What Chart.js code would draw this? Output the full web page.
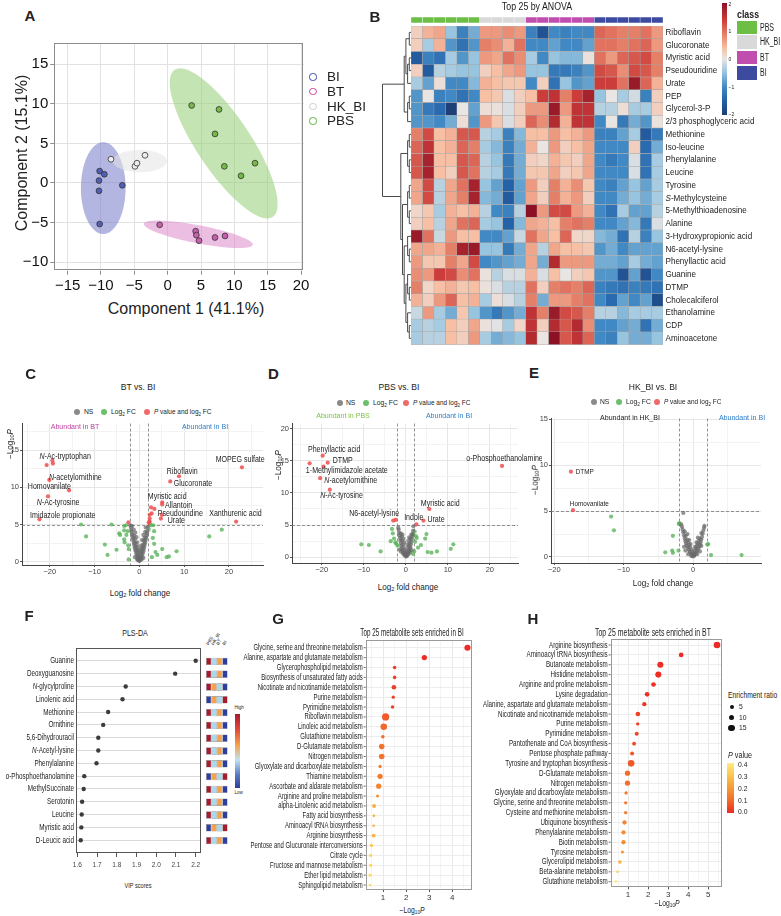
<!DOCTYPE html>
<html>
<head>
<meta charset="utf-8">
<title>Metabolomics figure</title>
<script src="https://cdn.jsdelivr.net/npm/chart.js@4.4.1/dist/chart.umd.min.js"></script>
<style>
  body { margin: 0; background: #fff; }
  #page { position: relative; width: 781px; height: 916px; overflow: hidden; background: #fff;
          font-family: 'Liberation Sans', Arial, Helvetica, sans-serif; color: #222; }
  #page canvas { position: absolute; }
  .t { position: absolute; white-space: nowrap; line-height: 1; }
  .t sub { font-size: 70%; vertical-align: -0.25em; line-height: 0; }
  .box { position: absolute; }
</style>
</head>
<body>
<div id="page"></div>
<script>
// ==============================
// DATA
// ==============================

// A - PLS-DA scores
const scoreGroups = ['BI', 'BT', 'HK_BI', 'PBS'];
const scoresBI = [[-10.2, 1.5], [-9.5, 1.1], [-10.3, 0.3], [-10.3, -1.0], [-6.8, -0.3], [-10.2, -5.2]];
const scoresBT = [[-1.2, -5.3], [4.2, -6.1], [4.3, -6.6], [4.7, -7.3], [7.1, -6.9], [8.6, -6.7]];
const scoresHK = [[-8.5, 3.0], [-4.9, 2.1], [-4.6, 2.5], [-3.4, 3.5]];
const scoresPBS = [[3.6, 9.8], [7.7, 9.3], [7.1, 6.2], [8.5, 2.1], [11.0, 0.9], [13.1, 2.5]];
// confidence ellipses: centre x, centre y, semi-axis u (x,y), semi-axis v (x,y)
const ellBI = [-9.66, -0.66, 3.35, 0, 0, 5.8];
const ellBT = [4.6, -6.5, 8.17, -1.33, -0.25, -1.12];
const ellHK = [-4.16, 2.76, 4.05, 0, 0, 1.4];
const ellPBS = [8.4, 5.0, 7.35, -9.3, 3.37, 1.9];

// B - heatmap, top 25 by ANOVA
const heatNames = ['Riboflavin', 'Glucoronate', 'Myristic acid', 'Pseudouridine', 'Urate', 'PEP',
  'Glycerol-3-P', '2/3 phosphoglyceric acid', 'Methionine', 'Iso-leucine', 'Phenylalanine', 'Leucine',
  'Tyrosine', '{S}-Methylcysteine', '5-Methylthioadenosine', 'Alanine', '3-Hydroxypropionic acid',
  'N6-acetyl-lysine', 'Phenyllactic acid', 'Guanine', 'DTMP', 'Cholecalciferol', 'Ethanolamine',
  'CDP', 'Aminoacetone'];
const heatClass = ['PBS', 'PBS', 'PBS', 'PBS', 'PBS', 'PBS', 'HK_BI', 'HK_BI', 'HK_BI', 'HK_BI',
  'BT', 'BT', 'BT', 'BT', 'BT', 'BT', 'BI', 'BI', 'BI', 'BI', 'BI', 'BI'];
const heatVals = [
  [0.3, 0.6, 0.7, -0.5, -1.1, -0.7, 0.8, 0.8, 0.9, 0.8, -1.1, -1.7, -1.0, -1.1, -1.0, -1.0, 1.2, 1.1, 1.0, 1.0, 1.1, 0.8],
  [0.3, -0.4, 0.6, -0.9, -1.3, -0.9, 1.0, 0.9, 0.6, 1.1, -1.0, -1.0, -0.8, -1.0, -1.0, -0.8, 1.1, 1.1, 1.0, 1.1, 1.2, 0.8],
  [-1.6, -1.1, -1.3, -0.4, -0.9, -0.5, 0.8, 0.7, 1.1, 0.9, -0.4, -1.0, -0.5, -0.6, -0.6, 0.05, 1.1, 0.8, 1.2, 1.3, 1.4, 1.0],
  [0.3, -1.6, -0.3, -0.4, -0.5, -0.5, 0.3, 0.5, 0.7, 0.8, -0.5, -0.5, -1.2, -1.2, -1.1, -0.9, 1.4, 1.3, 0.9, 1.4, 1.3, 1.0],
  [-0.4, -0.8, 0.1, -1.0, -1.0, -0.6, 0.6, 0.5, 0.4, 0.4, -1.0, 0.3, -1.3, -0.5, -0.9, -0.8, 1.5, 1.5, 1.1, 1.9, 1.2, 0.6],
  [-0.9, 0.0, -1.1, -1.0, -1.3, -1.0, 0.5, 0.4, -0.1, 0.3, 0.5, 1.5, 1.6, 1.0, 1.5, 1.8, -0.5, 0.0, -0.4, -0.15, -1.1, 0.3],
  [-0.9, -1.2, -1.4, -2.0, 0.0, -0.8, 0.1, 0.05, -0.1, 0.3, 0.8, 0.8, 1.9, 0.8, 1.6, 1.6, -0.3, -0.3, 0.1, -0.4, -0.4, 0.3],
  [-0.9, -0.9, -1.0, -0.7, 0.1, -0.9, 0.8, 0.4, -0.1, 0.3, 1.2, 0.9, 1.7, 0.6, 1.6, 1.6, -1.0, 0.0, -1.2, -0.7, -0.9, 0.05],
  [1.0, 1.4, 0.5, 0.6, 1.3, 1.3, -0.3, -0.4, -1.1, -0.6, 0.5, 0.5, 0.8, 0.5, 0.6, 0.8, -1.1, -1.1, -0.8, -0.4, -1.6, -1.2],
  [1.2, 1.6, 0.5, 0.6, 1.2, 1.0, -0.4, -0.6, -1.1, -0.7, 0.6, 0.0, 0.8, 0.3, 0.5, 0.7, -1.0, -1.0, -1.0, 0.3, -1.4, -0.7],
  [1.3, 1.8, 0.5, 0.5, 1.3, 1.2, -0.3, -0.5, -1.2, -0.7, 0.3, 0.2, 0.6, 0.4, 0.3, 0.7, -1.0, -1.2, -1.0, -0.1, -1.3, -0.4],
  [1.3, 1.8, 0.5, 0.3, 1.3, 1.1, -0.3, -0.4, -1.2, -0.7, 0.4, 0.4, 0.7, 0.3, 0.4, 0.7, -1.0, -1.0, -1.0, -0.1, -1.3, -0.4],
  [0.7, 1.4, -0.3, 0.7, 1.1, 1.8, -0.5, -0.8, -1.5, -0.8, 0.8, 0.3, 1.0, 0.6, 0.9, 0.4, -1.0, -1.1, -0.8, -0.5, -0.8, -0.4],
  [0.7, 1.4, -0.3, 0.7, 1.0, 1.8, -0.6, -0.7, -1.6, -0.8, 0.7, 0.3, 1.0, 0.6, 0.8, 0.3, -1.0, -1.0, -0.7, -0.5, -0.7, -0.4],
  [0.2, 0.4, -0.4, 0.6, 0.5, 0.6, -0.3, -1.0, -1.1, -0.3, 2.0, 0.8, 1.4, 1.4, 0.8, 0.6, -1.0, -1.3, -0.4, -0.8, -0.8, -0.3],
  [0.3, 0.5, -0.3, 0.7, 1.1, 1.2, -0.4, -0.5, -1.5, -0.6, 0.7, 0.6, 0.5, 1.0, 1.1, 1.0, -1.0, -1.0, -0.8, -0.6, -1.2, -0.1],
  [1.9, 1.1, -0.2, 0.8, 0.5, 0.5, -1.0, -1.0, -0.8, -0.2, 1.1, 0.7, 0.5, 1.2, 0.2, 0.2, -0.6, -0.7, -1.3, -0.3, -1.1, -0.5],
  [0.7, 0.7, 0.6, 1.0, 1.8, 1.9, -0.5, -0.5, -1.2, -0.7, 0.7, -0.3, 0.7, 0.5, 0.5, 0.4, -0.9, -0.7, -1.0, -0.8, -0.8, -0.8],
  [0.8, 0.4, 0.4, 1.0, 0.7, 1.4, -1.0, -0.9, -0.8, -0.7, 0.7, -0.7, 1.7, 0.8, 0.8, 0.8, -0.7, -0.7, -0.8, -0.4, -0.7, -0.8],
  [0.9, 0.8, 1.5, 1.4, 0.9, 1.1, 0.05, -0.3, -0.1, -0.1, 0.6, -0.1, 0.5, 0.0, 0.3, 0.4, -0.9, -0.9, -1.7, -0.8, -1.7, -1.0],
  [1.0, 0.2, 0.5, 0.6, 0.4, 0.5, 0.05, -0.1, -0.3, -0.3, 1.1, 0.3, 1.0, 1.1, 1.0, 1.2, -1.1, -1.2, -1.3, -1.1, -1.2, -1.3],
  [0.6, 0.3, 0.8, 1.2, 0.5, 0.6, -0.4, 0.1, -0.1, -0.3, 1.0, -0.7, 0.8, 0.8, 1.0, 1.1, -1.0, -1.4, -0.8, -1.0, -0.8, -1.8],
  [-0.2, 0.8, -0.4, -0.7, 0.4, -0.5, -0.9, -1.2, -0.9, -0.7, 1.6, 1.0, 1.9, 1.4, 1.3, 1.0, -0.3, -0.3, -0.6, -0.4, -0.4, -0.4],
  [-0.4, -0.3, -0.4, 0.5, 0.3, 0.7, 0.05, -0.05, -0.4, 0.2, 1.6, 0.3, 1.7, 1.3, 1.7, 0.9, -1.0, -1.0, -0.8, -0.7, -1.3, -0.7],
  [-0.4, -0.3, -0.3, 0.5, 0.3, 0.8, -0.4, -0.7, -0.6, -0.5, 1.7, 0.0, 2.0, 1.3, 1.6, 1.2, -1.0, -1.1, -0.5, -0.7, -0.7, -0.5]
];
// row clustering (row indices)
const heatTree = [[[[0, 1], [[2, 3], 4]], [[5, 6], 7]],
  [[[8, 9], [10, 11]], [[[12, 13], [14, 15]], [[16, [17, 18]], [[19, [20, 21]], [22, [23, 24]]]]]]];

// C, D, E - volcano plots (log2 FC, -log10 P)
const fcCut = 2;
const pCut = 5;
const nsC = [[0, 0.1], [0.15, 0.2], [-0.15, 0.25], [0.3, 0.35], [-0.3, 0.4], [0.45, 0.6], [-0.45, 0.65], [0.6, 0.85],
  [-0.6, 0.9], [0.75, 1.1], [-0.75, 1.2], [0.9, 1.4], [-0.9, 1.5], [1.0, 1.7], [-1.0, 1.8], [1.1, 2.0], [-1.1, 2.1],
  [1.2, 2.3], [-1.2, 2.4], [1.3, 2.6], [-1.3, 2.7], [1.4, 2.9], [-1.4, 3.0], [1.5, 3.2], [-1.5, 3.3], [-1.6, 3.6],
  [1.6, 3.5], [-1.7, 3.9], [1.7, 3.8], [-1.8, 4.2], [1.8, 4.1], [-1.9, 4.6], [1.9, 4.7], [0.1, 0.5], [-0.1, 0.7],
  [0.25, 0.9], [-0.25, 1.0], [0.4, 1.2], [-0.4, 1.3], [0.55, 1.5], [-0.55, 1.6], [0.2, 1.3], [-0.2, 1.6], [0.7, 1.9],
  [-0.7, 2.0], [0.35, 1.8], [-0.35, 2.1], [0.85, 2.3], [-0.85, 2.5], [0.5, 2.2], [-0.5, 2.6], [1.0, 2.8], [-1.0, 3.0],
  [0.6, 2.9], [-0.65, 3.3], [1.15, 3.2], [-1.15, 3.5], [0.9, 3.6], [-0.9, 3.9], [1.3, 4.0], [-1.25, 4.3], [-0.3, 0.2],
  [0.05, 0.35], [-0.05, 0.15], [0.5, 0.3], [-0.55, 0.35], [1.4, 4.6], [-2.0, 4.9], [-1.6, 4.8], [0.9, 0.5], [-1.0, 0.6]];
const fcC = [[-13.0, 5.0], [-11.9, 3.4], [-6.2, 5.0], [-7.7, 2.3], [-7.1, 0.9], [-5.1, 1.6], [-4.5, 3.8], [-4.3, 3.6],
  [-3.4, 4.8], [-3.0, 4.9], [-3.4, 4.2], [-3.4, 3.0], [-3.3, 2.6], [-2.9, 3.6], [-2.6, 4.1], [-2.5, 2.2], [-2.4, 1.7],
  [-2.4, 0.3], [3.1, 4.9], [3.3, 4.1], [3.0, 3.2], [3.3, 2.4], [3.6, 1.3], [2.8, 0.6], [5.1, 1.7], [4.0, 0.9], [6.1, 0.6],
  [6.6, 0.7], [8.3, 1.4], [15.6, 3.4], [18.4, 4.3], [2.6, 4.9], [2.1, 4.4]];
const sigC = [[-19.4, 13.6], [-19.3, 13.2], [-20.7, 13.0], [-20.1, 11.0], [-15.7, 9.6], [-20.4, 8.8], [-22.3, 5.7],
  [-2.45, 5.3], [22.9, 12.7], [8.85, 11.5], [6.9, 10.8], [5.1, 8.0], [5.1, 7.7], [2.6, 7.3], [3.35, 7.1], [5.0, 6.3],
  [2.75, 6.5], [2.3, 6.3], [2.3, 5.8], [2.3, 5.4], [2.3, 5.1], [4.8, 5.8], [2.1, 5.3], [21.6, 5.4]];
const labelsC = [['{N}-Ac-tryptophan', -22.3, 14.15], ['{N}-acetylornithine', -20.2, 11.35], ['Homovanilate', -24.9, 10.14],
  ['{N}-Ac-tyrosine', -22.9, 7.98], ['Imidazole propionate', -24.4, 6.13], ['MOPEG sulfate', 17.05, 13.76],
  ['Riboflavin', 6.12, 12.08], ['Glucoronate', 7.68, 10.44], ['Myristic acid', 1.88, 8.76], ['Allantoin', 5.74, 7.55],
  ['Pseudouridine', 4.1, 6.47], ['Urate', 6.34, 5.49], ['Xanthurenic acid', 15.6, 6.39]];

const nsD = [[0, 0.1], [0.2, 0.2], [-0.2, 0.3], [0.4, 0.4], [-0.4, 0.5], [0.6, 0.7], [-0.6, 0.8], [0.8, 1.0], [-0.8, 1.1],
  [1.0, 1.3], [-1.0, 1.4], [1.1, 1.6], [-1.1, 1.8], [1.2, 2.0], [-1.2, 2.2], [1.3, 2.4], [-1.3, 2.6], [1.4, 2.8],
  [-1.4, 3.0], [1.5, 3.2], [-1.5, 3.4], [1.6, 3.6], [-1.6, 3.8], [1.7, 4.1], [-1.7, 4.3], [1.8, 4.8], [-1.8, 4.6],
  [0.1, 0.6], [-0.1, 0.8], [0.3, 1.0], [-0.3, 1.2], [0.5, 1.4], [-0.5, 1.6], [0.7, 1.7], [-0.7, 2.0], [0.4, 2.0],
  [-0.4, 2.3], [0.9, 2.2], [-0.9, 2.6], [0.6, 2.6], [-0.6, 2.9], [1.1, 2.9], [-1.0, 3.2], [0.8, 3.1], [-0.8, 3.5],
  [1.3, 3.5], [-1.2, 3.7], [0.3, 0.25], [-0.3, 0.35], [0.7, 0.5], [-0.7, 0.6], [1.0, 0.8], [-1.2, 0.9], [0.0, 0.4],
  [1.4, 1.1], [-1.5, 1.2]];
const fcD = [[-10.6, 2.0], [-8.8, 1.9], [-6.0, 0.9], [-3.3, 4.4], [-3.1, 3.7], [-3.6, 2.5], [-2.8, 2.9], [-2.5, 2.3],
  [-2.3, 2.1], [-2.0, 1.8], [1.8, 3.5], [2.1, 4.0], [2.6, 3.0], [2.9, 1.5], [3.6, 1.9], [4.9, 3.6], [4.6, 2.9],
  [5.2, 0.8], [6.1, 0.7], [7.4, 0.9], [10.7, 1.3], [11.3, 2.0], [2.0, 0.9], [1.7, 0.5], [2.2, 2.4], [2.4, 3.3]];
const sigD = [[-22.9, 14.6], [-19.8, 15.8], [-18.6, 14.7], [-19.6, 14.1], [-20.4, 12.3], [-18.1, 10.5], [22.9, 14.2],
  [5.6, 7.5], [4.2, 5.7], [2.5, 5.1], [-3.0, 5.7], [-2.4, 5.8]];
const labelsD = [['Phenyllactic acid', -23.3, 16.7], ['DTMP', -17.4, 15.0], ['1-Methylimidazole acetate', -23.8, 13.4],
  ['{N}-acetylornithine', -19.4, 11.9], ['{N}-Ac-tyrosine', -20.4, 9.5], ['o-Phosphoethanolamine', 14.4, 15.4],
  ['Myristic acid', 3.57, 8.3], ['N6-acetyl-lysine', -13.5, 6.8], ['Indole', -0.4, 6.2], ['Urate', 5.14, 5.9]];

const nsE = [[0, 0.05], [0.15, 0.15], [-0.15, 0.2], [0.3, 0.3], [-0.3, 0.35], [0.45, 0.5], [-0.45, 0.55], [0.6, 0.7],
  [-0.6, 0.75], [0.75, 0.9], [-0.75, 1.0], [0.9, 1.1], [-0.9, 1.2], [1.0, 1.35], [-1.0, 1.45], [1.1, 1.6], [-1.1, 1.7],
  [1.2, 1.9], [-1.2, 2.0], [1.3, 2.2], [-1.3, 2.35], [1.4, 2.55], [-1.4, 2.7], [1.5, 2.9], [-1.5, 3.0], [1.6, 3.2],
  [-1.6, 3.3], [1.65, 3.4], [-1.7, 3.55], [-1.4, 4.8], [0.1, 0.4], [-0.1, 0.55], [0.25, 0.7], [-0.25, 0.8], [0.4, 0.95],
  [-0.4, 1.05], [0.55, 1.2], [-0.55, 1.3], [0.7, 1.45], [-0.7, 1.6], [0.3, 1.1], [-0.35, 1.4], [0.85, 1.75],
  [-0.85, 1.9], [0.5, 1.6], [-0.55, 1.85], [1.0, 2.0], [-1.05, 2.3], [0.7, 2.1], [-0.8, 2.5], [1.2, 2.6], [-1.2, 2.8],
  [0.2, 0.15], [-0.25, 0.1], [0.6, 0.3], [-0.7, 0.3], [1.0, 0.6], [-1.1, 0.7], [1.2, 1.2], [-1.3, 1.1], [0.05, 0.25]];
const fcE = [[-11.8, 4.4], [-11.4, 2.9], [-4.0, 0.5], [-3.0, 0.7], [-2.9, 0.45], [-2.9, 2.3], [-2.1, 0.7], [-2.05, 3.6],
  [-1.95, 3.7], [2.2, 1.4], [2.6, 0.2], [7.0, 0.2], [2.05, 1.35]];
const sigE = [[-17.6, 9.3], [-17.3, 5.1]];
const labelsE = [['DTMP', -16.9, 9.3], ['Homovanilate', -17.76, 5.83]];

// F - PLS-DA VIP scores
const vipNames = ['Guanine', 'Deoxyguanosine', '{N}-glycylproline', 'Linolenic acid', 'Methionine', 'Ornithine',
  '5,6-Dihydrouracil', '{N}-Acetyl-lysine', 'Phenylalanine', '{o}-Phosphoethanolamine', 'MethylSuccinate',
  'Serotonin', 'Leucine', 'Myristic acid', 'D-Leucic acid'];
const vipScores = [2.20, 2.096, 1.845, 1.829, 1.756, 1.731, 1.706, 1.706, 1.697, 1.635, 1.632, 1.624, 1.622, 1.620, 1.617];
const vipGroups = ['PBS', 'HK_BI', 'BT', 'BI'];
// relative level per group, 1 = low ... 4 = high
const vipRank = [[4, 2, 3, 1], [4, 2, 3, 1], [4, 3, 2, 1], [1, 3, 2, 4], [4, 2, 3, 1], [4, 2, 3, 1], [4, 2, 3, 1],
  [4, 2, 3, 1], [4, 2, 3, 1], [1, 3, 2, 4], [4, 2, 3, 1], [4, 2, 3, 1], [4, 2, 3, 1], [1, 3, 2, 4], [4, 2, 3, 1]];

// G - enrichment in BI
const setsBI = ['Glycine, serine and threonine metabolism', 'Alanine, aspartate and glutamate metabolism',
  'Glycerophospholipid metabolism', 'Biosynthesis of unsaturated fatty acids', 'Nicotinate and nicotinamide metabolism',
  'Purine metabolism', 'Pyrimidine metabolism', 'Riboflavin metabolism', 'Linoleic acid metabolism',
  'Glutathione metabolism', 'D-Glutamate metabolism', 'Nitrogen metabolism', 'Glyoxylate and dicarboxylate metabolism',
  'Thiamine metabolism', 'Ascorbate and aldarate metabolism', 'Arginine and proline metabolism',
  'alpha-Linolenic acid metabolism', 'Fatty acid biosynthesis', 'Aminoacyl tRNA biosynthesis', 'Arginine biosynthesis',
  'Pentose and Glucuronate interconversions', 'Citrate cycle', 'Fructose and mannose metabolism',
  'Ether lipid metabolism', 'Sphingolipid metabolism'];
const logpBI = [4.66, 2.79, 1.5, 1.5, 1.47, 1.44, 1.41, 1.11, 1.03, 0.99, 0.94, 0.94, 0.87, 0.87, 0.81, 0.76, 0.61,
  0.6, 0.59, 0.59, 0.5, 0.46, 0.46, 0.44, 0.43];
const ratioBI = [12, 9, 4, 4, 7, 3.5, 4, 17, 14, 4, 10, 10, 3.5, 9, 9, 3, 5, 2.3, 2.3, 5, 3.5, 3.5, 3.5, 3.5, 2.3];

// H - enrichment in BT
const setsBT = ['Arginine biosynthesis', 'Aminoacyl tRNA biosynthesis', 'Butanoate metabolism', 'Histidine metabolism',
  'Arginine and proline metabolism', 'Lysine degradation', 'Alanine, aspartate and glutamate metabolism',
  'Nicotinate and nicotinamide metabolism', 'Purine metabolism', 'Pyrimidine metabolism',
  'Pantothenate and CoA biosynthesis', 'Pentose phosphate pathway', 'Tyrosine and tryptophan biosynthesis',
  'D-Glutamate metabolism', 'Nitrogen metabolism', 'Glyoxylate and dicarboxylate metabolism',
  'Glycine, serine and threonine metabolism', 'Cysteine and methionine metabolism', 'Ubiquinone biosynthesis',
  'Phenylalanine metabolism', 'Biotin metabolism', 'Tyrosine metabolism', 'Glycerolipid metabolism',
  'Beta-alanine metabolism', 'Glutathione metabolism'];
const logpBT = [5.44, 3.65, 2.61, 2.51, 2.27, 1.95, 1.81, 1.49, 1.48, 1.43, 1.3, 1.2, 1.15, 0.97, 0.97, 0.9, 0.88,
  0.88, 0.82, 0.77, 0.77, 0.72, 0.59, 0.47, 0.39];
const ratioBT = [14, 7, 12, 12, 7, 7, 6, 7, 3.5, 5, 5, 5, 14, 9, 9, 3.5, 3.5, 3.5, 6, 6, 6, 3, 4, 2.3, 2.3];

// ==============================
// STYLE / HELPERS
// ==============================
const FONT = "'Liberation Sans', Arial, Helvetica, sans-serif";
Chart.defaults.font.family = FONT;
Chart.defaults.color = '#222';
Chart.defaults.animation = false;
Chart.defaults.responsive = false;
Chart.defaults.plugins.legend.display = false;
Chart.defaults.plugins.tooltip.enabled = false;

const page = document.getElementById('page');
const groupFill = { BI: '#4F5FB5', BT: '#C85FAE', HK_BI: '#EDEDED', PBS: '#76B947' };
const groupRing = { BI: '#3A4BAA', BT: '#C8409F', HK_BI: '#CCCCCC', PBS: '#58B43C' };
const ellFill = { BI: 'rgba(118,122,202,0.55)', BT: 'rgba(220,137,202,0.55)', HK_BI: 'rgba(228,228,228,0.55)', PBS: 'rgba(148,206,119,0.55)' };
const classColor = { PBS: '#6DBE45', HK_BI: '#D9D9D9', BT: '#BF4EAE', BI: '#3C4BA0' };
const heatStops = [[-2, '#1E3F78'], [-1.5, '#2462A8'], [-1, '#4189C4'], [-0.5, '#97C4DF'], [0, '#E9E5E3'],
  [0.5, '#F7BFA3'], [1, '#E58068'], [1.5, '#CC3C3A'], [2, '#8C1124']];
const pStops = [[0, '#EE2A24'], [0.1, '#F26B2A'], [0.2, '#F79A35'], [0.3, '#FBC54E'], [0.4, '#FFEC80']];
const vipColors = ['#2E3E9C', '#A9DAEB', '#F5A14B', '#A51C2E'];

function hexRgb(h) { const n = parseInt(h.slice(1), 16); return [(n >> 16) & 255, (n >> 8) & 255, n & 255]; }
function ramp(stops, v) {
  if (v <= stops[0][0]) return stops[0][1];
  for (let i = 1; i < stops.length; i++) {
    if (v <= stops[i][0]) {
      const t = (v - stops[i - 1][0]) / (stops[i][0] - stops[i - 1][0]);
      const a = hexRgb(stops[i - 1][1]), b = hexRgb(stops[i][1]);
      return 'rgb(' + a.map((x, k) => Math.round(x + (b[k] - x) * t)).join(',') + ')';
    }
  }
  return stops[stops.length - 1][1];
}
const minus = v => v < 0 ? '\u2212' + Math.abs(v) : String(v);
const isInt = v => Math.abs(v - Math.round(v)) < 1e-6;

function txt(html, x, y, o = {}) {
  const d = document.createElement('div');
  const a = o.a || 'c';
  d.className = 't';
  d.innerHTML = html;
  d.style.left = x + 'px';
  d.style.top = y + 'px';
  d.style.fontSize = (o.size || 8) + 'px';
  if (o.bold) d.style.fontWeight = 'bold';
  if (o.color) d.style.color = o.color;
  d.style.transformOrigin = { l: '0% 50%', c: '50% 50%', r: '100% 50%' }[a];
  d.style.transform = `translate(${{ l: '0', c: '-50%', r: '-100%' }[a]},-50%) rotate(${o.rot || 0}deg) scaleX(${o.sx || 1})`;
  page.appendChild(d);
  return d;
}
function box(x, y, w, h, bg, extra) {
  const d = document.createElement('div');
  d.className = 'box';
  Object.assign(d.style, { left: x + 'px', top: y + 'px', width: w + 'px', height: h + 'px', background: bg }, extra || {});
  page.appendChild(d);
  return d;
}
function dot(x, y, r, fill, stroke, sw) {
  return box(x - r, y - r, 2 * r, 2 * r, fill,
    { borderRadius: '50%', boxSizing: 'border-box', border: stroke ? `${sw || 1}px solid ${stroke}` : 'none' });
}
function canvasAt(x, y, w, h) {
  const c = document.createElement('canvas');
  c.width = w; c.height = h;
  c.style.left = x + 'px'; c.style.top = y + 'px';
  c.style.width = w + 'px'; c.style.height = h + 'px';
  page.appendChild(c);
  return c;
}
// plot area p (page px) + room around it -> canvas and the offsets of the plot inside it
function plotCanvas(p, m) {
  const x = Math.round(p.l - m.l), y = Math.round(p.t - m.t);
  const w = Math.round(p.r + m.r) - x, h = Math.round(p.b + m.b) - y;
  return { cv: canvasAt(x, y, w, h), l: p.l - x, t: p.t - y, r: x + w - p.r, b: y + h - p.b };
}

// canvas text, squeezed horizontally; {..} marks italic runs
function segs(str) {
  const out = []; let it = false, buf = '';
  for (const ch of str) {
    if (ch === '{' || ch === '}') { if (buf) out.push([buf, it]); buf = ''; it = ch === '{'; }
    else buf += ch;
  }
  if (buf) out.push([buf, it]);
  return out;
}
function ctext(ctx, str, x, y, o) {
  const sz = o.size || 8, sx = o.sx || 1;
  const ss = segs(str);
  let w = 0;
  ss.forEach(s => { ctx.font = (s[1] ? 'italic ' : '') + sz + 'px ' + FONT; s.push(ctx.measureText(s[0]).width); w += s[2]; });
  const a = o.align || 'left';
  const x0 = a === 'left' ? x : a === 'right' ? x - w * sx : x - w * sx / 2;
  ctx.save();
  ctx.translate(x0, y);
  ctx.scale(sx, 1);
  ctx.fillStyle = o.color || '#222';
  ctx.textBaseline = 'middle';
  ctx.textAlign = 'left';
  let cx = 0;
  ss.forEach(s => { ctx.font = (s[1] ? 'italic ' : '') + sz + 'px ' + FONT; ctx.fillText(s[0], cx, 0); cx += s[2]; });
  ctx.restore();
}

// ==============================
// PLUGINS
// ==============================
const rowLabels = {
  id: 'rowLabels',
  afterDraw(chart, args, o) {
    if (!o.labels) return;
    const ctx = chart.ctx, ys = chart.scales.y, a = chart.chartArea;
    o.labels.forEach((lab, i) => {
      const y = ys.getPixelForValue(i);
      if (o.side === 'right') {
        ctext(ctx, lab, a.right + (o.gap || 2), y, { size: o.size, sx: o.sx });
      } else {
        ctext(ctx, lab, a.left - (o.gap || 2), y, { size: o.size, sx: o.sx, align: 'right' });
        if (o.tick) {
          ctx.save(); ctx.strokeStyle = '#444'; ctx.lineWidth = 0.8;
          ctx.beginPath(); ctx.moveTo(a.left - 2, y); ctx.lineTo(a.left, y); ctx.stroke(); ctx.restore();
        }
      }
    });
  }
};
const frameBox = {
  id: 'frameBox',
  beforeDatasetsDraw(chart, args, o) {
    if (!o.color) return;
    const a = chart.chartArea, c = chart.ctx;
    c.save(); c.strokeStyle = o.color; c.lineWidth = o.width || 1;
    c.strokeRect(Math.round(a.left) + 0.5, Math.round(a.top) + 0.5, Math.round(a.right - a.left) - 1, Math.round(a.bottom - a.top) - 1);
    c.restore();
  }
};
const ellipses = {
  id: 'ellipses',
  beforeDatasetsDraw(chart, args, o) {
    const ctx = chart.ctx, xs = chart.scales.x, ys = chart.scales.y;
    o.sets.forEach((e, k) => {
      ctx.save();
      ctx.fillStyle = o.colors[k];
      ctx.beginPath();
      for (let d = 0; d <= 360; d += 3) {
        const t = d * Math.PI / 180;
        const px = xs.getPixelForValue(e[0] + e[2] * Math.cos(t) + e[4] * Math.sin(t));
        const py = ys.getPixelForValue(e[1] + e[3] * Math.cos(t) + e[5] * Math.sin(t));
        if (d === 0) ctx.moveTo(px, py); else ctx.lineTo(px, py);
      }
      ctx.closePath();
      ctx.fill();
      ctx.restore();
    });
  }
};
const dendro = {
  id: 'dendro',
  afterDraw(chart, args, o) {
    const ctx = chart.ctx, ys = chart.scales.y, left = chart.chartArea.left;
    const height = n => Array.isArray(n) ? 1 + Math.max(height(n[0]), height(n[1])) : 0;
    ctx.save();
    ctx.strokeStyle = '#4A4A4A';
    ctx.lineWidth = 1;
    const walk = (n, root) => {
      if (!Array.isArray(n)) return { x: left, y: ys.getPixelForValue(n) };
      const a = walk(n[0]), b = walk(n[1]);
      const x = root ? o.rootX : left - height(n) * o.step;
      ctx.beginPath();
      ctx.moveTo(a.x, a.y); ctx.lineTo(x, a.y); ctx.lineTo(x, b.y); ctx.lineTo(b.x, b.y);
      ctx.stroke();
      return { x, y: (a.y + b.y) / 2 };
    };
    walk(o.tree, true);
    ctx.restore();
  }
};
const volcMarks = {
  id: 'volcMarks',
  beforeDatasetsDraw(chart, args, o) {
    const ctx = chart.ctx, xs = chart.scales.x, ys = chart.scales.y, a = chart.chartArea;
    ctx.save();
    ctx.strokeStyle = '#777'; ctx.lineWidth = 0.8; ctx.setLineDash([3, 2]);
    [-o.fc, o.fc].forEach(v => {
      const x = Math.round(xs.getPixelForValue(v)) + 0.5;
      ctx.beginPath(); ctx.moveTo(x, a.top); ctx.lineTo(x, a.bottom); ctx.stroke();
    });
    const y = Math.round(ys.getPixelForValue(o.p)) + 0.5;
    ctx.beginPath(); ctx.moveTo(a.left, y); ctx.lineTo(a.right, y); ctx.stroke();
    ctx.restore();
  },
  afterDatasetsDraw(chart, args, o) {
    const xs = chart.scales.x, ys = chart.scales.y;
    o.labels.forEach(l => ctext(chart.ctx, l[0], xs.getPixelForValue(l[1]), ys.getPixelForValue(l[2]),
      { size: o.size, sx: o.sx }));
  }
};

// ==============================
// A - PLS-DA SCORES
// ==============================
const scoreSets = [scoresBI, scoresBT, scoresHK, scoresPBS];
const fA = plotCanvas({ l: 54.3, t: 43.3, r: 303.7, b: 270.7 }, { l: 54.3, t: 13, r: 66, b: 29.3 });
new Chart(fA.cv, {
  type: 'scatter',
  data: {
    datasets: scoreGroups.map((g, i) => ({
      label: g,
      data: scoreSets[i].map(p => ({ x: p[0], y: p[1] })),
      backgroundColor: groupFill[g], borderColor: '#333', borderWidth: 0.8, pointRadius: 2.9
    }))
  },
  options: {
    layout: { padding: { top: fA.t, right: fA.r } },
    plugins: {
      ellipses: { sets: [ellPBS, ellBI, ellHK, ellBT], colors: [ellFill.PBS, ellFill.BI, ellFill.HK_BI, ellFill.BT] },
      frameBox: { color: '#8C8C8C' }
    },
    scales: {
      x: {
        min: -17, max: 20.4, afterFit: s => { s.height = fA.b; },
        ticks: { stepSize: 5, includeBounds: false, autoSkip: false, maxRotation: 0, padding: 2, font: { size: 15 }, color: '#111', callback: minus },
        grid: { color: '#E2E2E2', tickLength: 4, tickColor: '#8C8C8C' }, border: { display: false }
      },
      y: {
        min: -11.1, max: 17.66, afterFit: s => { s.width = fA.l; },
        ticks: { stepSize: 5, includeBounds: false, autoSkip: false, padding: 2, font: { size: 15 }, color: '#111', callback: minus },
        grid: { color: '#E2E2E2', tickLength: 4, tickColor: '#8C8C8C' }, border: { display: false }
      }
    }
  },
  plugins: [ellipses, frameBox]
});
txt('A', 30, 15, { size: 15, bold: true });
txt('Component 1 (41.1%)', 186, 309, { size: 16 });
txt('Component 2 (15.1%)', 22, 153, { size: 16, rot: -90 });
[77, 91.5, 106.5, 121].forEach((y, i) => {
  const g = scoreGroups[i];
  dot(313, y, 3.6, 'transparent', groupRing[g], 1.4);
  txt(g, 327, y, { size: 13.5, a: 'l' });
});

// ==============================
// B - HEATMAP
// ==============================
new Chart(canvasAt(411, 17, 252, 6), {
  type: 'bar',
  data: {
    labels: heatClass.map((c, j) => j),
    datasets: [{ data: heatClass.map(() => 1), backgroundColor: heatClass.map(c => classColor[c]),
      borderColor: 'rgba(255,255,255,0.6)', borderWidth: 0.5, borderSkipped: false, barPercentage: 1, categoryPercentage: 1 }]
  },
  options: { scales: { x: { display: false }, y: { display: false, min: 0, max: 1 } } }
});
new Chart(canvasAt(370, 20, 411, 330), {
  type: 'bar',
  data: {
    labels: heatNames,
    datasets: heatClass.map((c, j) => ({
      data: heatNames.map(() => 1),
      backgroundColor: heatVals.map(r => ramp(heatStops, r[j])),
      borderColor: '#A3A3A3', borderWidth: 0.5, borderSkipped: false,
      barPercentage: 1, categoryPercentage: 1
    }))
  },
  options: {
    indexAxis: 'y',
    layout: { padding: { left: 41, top: 6, right: 118, bottom: 5.3 } },
    plugins: {
      rowLabels: { labels: heatNames, size: 9.5, sx: 0.85, side: 'right', gap: 2.5 },
      dendro: { tree: heatTree, rootX: 12.5, step: 1.7 }
    },
    scales: { x: { display: false, stacked: true, min: 0, max: heatClass.length }, y: { display: false, stacked: true } }
  },
  plugins: [rowLabels, dendro]
});
txt('B', 375, 16, { size: 15, bold: true });
txt('Top 25 by ANOVA', 537, 6.5, { size: 10, sx: 0.88 });
txt('class', 737, 14, { size: 11, bold: true, a: 'l', sx: 0.8 });
[['PBS', 20.7], ['HK_BI', 35.3], ['BT', 50.7], ['BI', 66]].forEach(([g, y]) => {
  box(737, y, 20, 13.8, classColor[g]);
  txt(g, 759.5, y + 7, { size: 10, a: 'l', sx: 0.7 });
});
box(721.7, 3, 5.5, 112, 'linear-gradient(to bottom,#8C1124,#CC3C3A 15%,#E58068 28%,#F7BFA3 40%,#E9E5E3 50%,#97C4DF 62%,#4189C4 75%,#2462A8 87%,#1E3F78)');
[['2', 4], ['1', 31], ['0', 59], ['\u22121', 87], ['\u22122', 114]].forEach(([s, y]) => txt(s, 728.5, y, { size: 5, a: 'l' }));

// ==============================
// C, D, E - VOLCANO PLOTS
// ==============================
function volcano(o) {
  const f = plotCanvas(o.plot, o.m);
  const pts = arr => arr.map(p => ({ x: p[0], y: p[1] }));
  new Chart(f.cv, {
    type: 'scatter',
    data: {
      datasets: [
        { data: pts(o.ns), backgroundColor: 'rgba(105,105,105,0.72)', pointRadius: 2.1, borderWidth: 0 },
        { data: pts(o.fc), backgroundColor: 'rgba(88,178,88,0.78)', pointRadius: 2.1, borderWidth: 0 },
        { data: pts(o.sig), backgroundColor: 'rgba(238,78,78,0.85)', pointRadius: 2.1, borderWidth: 0 }
      ]
    },
    options: {
      layout: { padding: { top: f.t, right: f.r } },
      plugins: { volcMarks: { labels: o.labels, fc: fcCut, p: pCut, size: o.labelSize || 8.3, sx: 0.85 } },
      scales: {
        x: {
          min: o.x[0], max: o.x[1], afterFit: s => { s.height = f.b; },
          ticks: { stepSize: 5, includeBounds: false, autoSkip: false, maxRotation: 0, padding: 0, font: { size: 7.5 }, color: '#444',
            callback: v => v % 10 === 0 ? minus(v) : '' },
          grid: { color: c => c.tick.value % 10 === 0 ? '#E6E6E6' : '#F3F3F3', tickLength: 2,
            tickColor: c => c.tick.value % 10 === 0 ? '#555' : 'rgba(0,0,0,0)' },
          border: { color: '#444' }
        },
        y: {
          min: o.y[0], max: o.y[1], afterFit: s => { s.width = f.l; },
          ticks: { stepSize: 2.5, includeBounds: false, autoSkip: false, padding: 1, font: { size: 7.5 }, color: '#444',
            callback: v => v % 5 === 0 ? minus(v) : '' },
          grid: { color: c => c.tick.value % 5 === 0 ? '#E6E6E6' : '#F3F3F3', tickLength: 2,
            tickColor: c => c.tick.value % 5 === 0 ? '#555' : 'rgba(0,0,0,0)' },
          border: { color: '#444' }
        }
      }
    },
    plugins: [volcMarks]
  });
  // title, legend and axis titles
  txt(o.letter, o.letterAt[0], o.letterAt[1], { size: 15, bold: true });
  txt(o.title, o.titleAt[0], o.titleAt[1], { size: 9, sx: 0.95 });
  const ly = o.legend[0], lx = o.legend[1];
  dot(lx[0], ly, 3.2, '#8A8A8A');
  txt('NS', lx[1], ly, { size: 7.5, a: 'l', sx: 0.9 });
  dot(lx[2], ly, 3.2, '#6CBF6C');
  txt('Log<sub>2</sub> FC', lx[3], ly, { size: 7.5, a: 'l', sx: 0.9 });
  dot(lx[4], ly, 3.2, '#F06A6A');
  txt('<i>P</i> value and log<sub>2</sub> FC', lx[5], ly, { size: 7.5, a: 'l', sx: 0.86 });
  o.abundant.forEach(a => txt(a[0], a[1], a[2], { size: 8, sx: 0.88, color: a[3] }));
  txt('\u2212Log<sub>10</sub><i>P</i>', o.yTitle[0], o.yTitle[1], { size: 8.5, rot: -90, sx: 0.95 });
  txt('Log<sub>2</sub> fold change', o.xTitle[0], o.xTitle[1], { size: 8.5, sx: 0.95 });
}
volcano({
  plot: { l: 22, t: 418, r: 263, b: 565 }, m: { l: 22, t: 0, r: 4, b: 12 },
  x: [-26.2, 27.6], y: [-0.45, 18.6], ns: nsC, fc: fcC, sig: sigC, labels: labelsC,
  letter: 'C', letterAt: [30.7, 373.3], title: 'BT vs. BI', titleAt: [138.3, 387.3],
  legend: [412.3, [77, 83.5, 104.3, 111, 146.7, 154]],
  abundant: [['Abundant in BT', 75, 426.7, '#C03FA2'], ['Abundant in BI', 205, 426.7, '#2F7FC8']],
  yTitle: [10, 444], xTitle: [140, 593]
});
volcano({
  plot: { l: 292, t: 418, r: 518, b: 563 }, m: { l: 20, t: 0, r: 24, b: 12 },
  x: [-27.1, 26.7], y: [-0.9, 20.8], ns: nsD, fc: fcD, sig: sigD, labels: labelsD,
  letter: 'D', letterAt: [273.3, 373.3], title: 'PBS vs. BI', titleAt: [399.3, 387.3],
  legend: [402.7, [340, 346, 366, 372.5, 406, 413]],
  abundant: [['Abundant in PBS', 343.3, 415.7, '#7DC242'], ['Abundant in BI', 449, 415.7, '#2F7FC8']],
  yTitle: [278.3, 465], xTitle: [408.3, 587.3]
});
volcano({
  plot: { l: 551, t: 413, r: 763, b: 563 }, m: { l: 18, t: 0, r: 2, b: 12 },
  x: [-20.47, 9.8], y: [-0.66, 15.1], ns: nsE, fc: fcE, sig: sigE, labels: labelsE, labelSize: 7.5,
  letter: 'E', letterAt: [534, 371.7], title: 'HK_BI vs. BI', titleAt: [653.3, 387.3],
  legend: [402.3, [594, 600, 619, 625.5, 657.3, 664]],
  abundant: [['Abundant in HK_BI', 630, 418.3, '#222'], ['Abundant in BI', 741.7, 418.3, '#2F7FC8']],
  yTitle: [535, 480], xTitle: [663.3, 582.7]
});

// ==============================
// F - VIP SCORES
// ==============================
const fF = plotCanvas({ l: 76, t: 648, r: 201.7, b: 853 }, { l: 76, t: 8, r: 3, b: 22 });
new Chart(fF.cv, {
  type: 'scatter',
  data: { datasets: [{ data: vipScores.map((v, i) => ({ x: v, y: i })), backgroundColor: '#3C3C3C', pointRadius: 2.2, borderWidth: 0 }] },
  options: {
    layout: { padding: { top: fF.t, right: fF.r } },
    plugins: { rowLabels: { labels: vipNames, size: 9, sx: 0.7, gap: 2 }, frameBox: { color: '#555' } },
    scales: {
      x: {
        min: 1.593, max: 2.227, afterFit: s => { s.height = fF.b; },
        ticks: { stepSize: 0.1, includeBounds: false, autoSkip: false, maxRotation: 0, padding: 4, font: { size: 6.5 }, color: '#444',
          callback: v => v.toFixed(1) },
        grid: { drawOnChartArea: false, tickLength: 4, tickColor: '#555' }, border: { display: false }
      },
      y: {
        min: -1, max: 15, reverse: true, afterFit: s => { s.width = fF.l; },
        ticks: { display: false, stepSize: 1, includeBounds: false },
        grid: { color: c => (c.tick.value >= 0 && c.tick.value <= 14) ? '#DADADA' : 'rgba(0,0,0,0)', drawTicks: false },
        border: { display: false }
      }
    }
  },
  plugins: [rowLabels, frameBox]
});
new Chart(canvasAt(205, 655, 24, 192), {
  type: 'bar',
  data: {
    labels: vipNames,
    datasets: vipGroups.map((g, j) => ({
      data: vipNames.map(() => 1),
      backgroundColor: vipRank.map(r => vipColors[r[j] - 1]),
      borderColor: '#8A8A8A', borderWidth: 0.6, borderSkipped: false,
      barPercentage: 0.58, categoryPercentage: 1
    }))
  },
  options: {
    indexAxis: 'y',
    layout: { padding: { left: 1, right: 1.3 } },
    scales: { x: { display: false, stacked: true, min: 0, max: vipGroups.length }, y: { display: false, stacked: true } }
  }
});
txt('F', 29, 615, { size: 15, bold: true });
txt('PLS-DA', 135, 633, { size: 9.5, sx: 0.75 });
txt('VIP scores', 138, 885, { size: 7, sx: 0.8 });
vipGroups.forEach((g, j) => txt(g, 207.5 + j * 5.4, 645, { size: 4.5, a: 'l', rot: -60 }));
box(235, 714, 5, 74, 'linear-gradient(to bottom,#A51C2E,#E0453A 20%,#F5A14B 42%,#BFE4F0 62%,#5B7BC0 82%,#2E3E9C)');
txt('High', 234.5, 708, { size: 4.5, a: 'l' });
txt('Low', 234.5, 793, { size: 4.5, a: 'l' });

// ==============================
// G, H - ENRICHMENT
// ==============================
function enrich(o) {
  const f = plotCanvas(o.plot, o.m);
  new Chart(f.cv, {
    type: 'scatter',
    data: {
      datasets: [{
        data: o.logp.map((v, i) => ({ x: v, y: i })),
        pointRadius: o.ratio.map(r => 0.88 * Math.sqrt(r)),
        backgroundColor: o.logp.map(v => ramp(pStops, Math.pow(10, -v))),
        borderWidth: 0
      }]
    },
    options: {
      layout: { padding: { top: f.t, right: f.r } },
      plugins: { rowLabels: { labels: o.names, size: 9, sx: o.sx, gap: 3, tick: true }, frameBox: { color: '#9A9A9A' } },
      scales: {
        x: {
          min: o.x[0], max: o.x[1], afterFit: s => { s.height = f.b; },
          ticks: { stepSize: 0.5, includeBounds: false, autoSkip: false, maxRotation: 0, padding: 1, font: { size: 8 }, color: '#333',
            callback: v => isInt(v) ? String(Math.round(v)) : '' },
          grid: { color: c => isInt(c.tick.value) ? '#E8E8E8' : '#F4F4F4', tickLength: 2,
            tickColor: c => isInt(c.tick.value) ? '#555' : 'rgba(0,0,0,0)' },
          border: { display: false }
        },
        y: {
          min: o.y[0], max: o.y[1], reverse: true, afterFit: s => { s.width = f.l; },
          ticks: { display: false, stepSize: 1, includeBounds: false },
          grid: { color: c => c.tick.value >= 0 ? '#EDEDED' : 'rgba(0,0,0,0)', drawTicks: false },
          border: { display: false }
        }
      }
    },
    plugins: [rowLabels, frameBox]
  });
  txt(o.letter, o.letterAt[0], o.letterAt[1], { size: 15, bold: true });
  txt(o.title, o.titleAt[0], o.titleAt[1], { size: 10.5, sx: o.titleSx });
  txt('\u2212Log<sub>10</sub><i>P</i>', o.xTitle[0], o.xTitle[1], { size: 8.5, sx: 0.8 });
}
enrich({
  plot: { l: 365.7, t: 640, r: 473.3, b: 890 }, m: { l: 125.7, t: 4, r: 3, b: 14 },
  x: [0.246, 4.857], y: [-0.78, 24.5], names: setsBI, logp: logpBI, ratio: ratioBI, sx: 0.66,
  letter: 'G', letterAt: [278, 618], title: 'Top 25 metabolite sets enriched in BI', titleAt: [411.7, 632], titleSx: 0.6,
  xTitle: [411.7, 910]
});
enrich({
  plot: { l: 610.7, t: 639.3, r: 723.3, b: 887.3 }, m: { l: 132.7, t: 4, r: 3, b: 12 },
  x: [0.131, 5.69], y: [-0.58, 24.57], names: setsBT, logp: logpBT, ratio: ratioBT, sx: 0.69,
  letter: 'H', letterAt: [533, 618], title: 'Top 25 metabolite sets enriched in BT', titleAt: [653.3, 632], titleSx: 0.66,
  xTitle: [666.7, 902.7]
});
// H legends
txt('Enrichment ratio', 728, 695, { size: 9, a: 'l', sx: 0.75 });
[[5, 707], [10, 717.7], [15, 728]].forEach(([r, y]) => {
  dot(731.7, y, 0.88 * Math.sqrt(r), '#111');
  txt(String(r), 739, y, { size: 8, a: 'l', sx: 0.85 });
});
txt('<i>P</i> value', 728, 755, { size: 9, a: 'l', sx: 0.8 });
box(727, 763, 7, 50, 'linear-gradient(to top,#EE2A24,#F26B2A 25%,#F79A35 50%,#FBC54E 75%,#FFEC80)');
[['0.4', 765], ['0.3', 777], ['0.2', 789], ['0.1', 801], ['0.0', 812]].forEach(([s, y]) => txt(s, 738, y, { size: 8, a: 'l', sx: 0.85 }));
</script>
</body>
</html>
